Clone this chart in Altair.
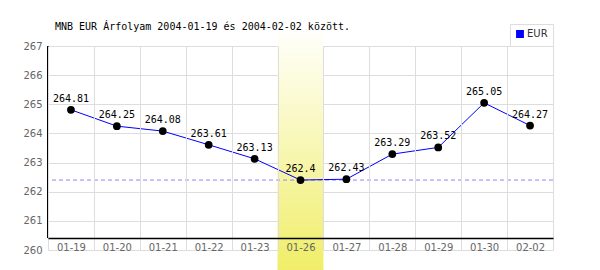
import altair as alt
import pandas as pd

dates = ["01-19", "01-20", "01-21", "01-22", "01-23", "01-26",
         "01-27", "01-28", "01-29", "01-30", "02-02"]
rates = [264.81, 264.25, 264.08, 263.61, 263.13, 262.4,
         262.43, 263.29, 263.52, 265.05, 264.27]
rate_labels = ["264.81", "264.25", "264.08", "263.61", "263.13", "262.4",
               "262.43", "263.29", "263.52", "265.05", "264.27"]
series_name = "EUR"
highlight_dates = ["01-26"]
y_ticks = [260, 261, 262, 263, 264, 265, 266, 267]
title_text = "MNB EUR Árfolyam 2004-01-19 és 2004-02-02 között."

df = pd.DataFrame({"date": dates, "rate": rates, "label": rate_labels,
                   "series": [series_name] * len(dates)})
df_h = pd.DataFrame({"date": highlight_dates})
df_t = pd.DataFrame({"t": [title_text]})

W, H = 505, 204

xscale = alt.Scale(domain=dates, paddingInner=0, paddingOuter=0)
yscale = alt.Scale(domain=[y_ticks[0], y_ticks[-1]], nice=False, zero=False)

x_axis = alt.Axis(title=None, tickBand="extent", ticks=False, grid=True,
                  gridColor="#dddddd", domainColor="#000000", domainWidth=1.5,
                  offset=-12, labelPadding=4, labelFont="DejaVu Sans",
                  labelFontSize=10, labelColor="#666666", labelAngle=0, zindex=1)
y_axis = alt.Axis(title=None, values=y_ticks, ticks=False, domain=False,
                  grid=True, gridColor="#dddddd", labelPadding=6,
                  labelFont="DejaVu Sans", labelFontSize=10,
                  labelColor="#666666", labelOverlap=False, zindex=0)

X = alt.X("date:N", scale=xscale, axis=x_axis, sort=dates)
Y = alt.Y("rate:Q", scale=yscale, axis=y_axis)

base = alt.Chart(df)

grad = alt.LinearGradient(
    gradient="linear", x1=0, y1=0, x2=0, y2=1,
    stops=[alt.GradientStop(color="#fffffc", offset=0),
           alt.GradientStop(color="#f0ee68", offset=1)])

highlight = alt.Chart(df_h).mark_rect(color=grad).encode(
    x=X, y=alt.value(-16), y2=alt.value(224))

grid_layer = base.mark_point(opacity=0).encode(x=X, y=Y)

left_line = base.mark_rule(color="#000000", strokeWidth=1.5).encode(
    x=alt.value(0), y=alt.value(0), y2=alt.value(192))

min_rule = base.mark_rule(color="#8888ff", strokeDash=[4, 3], strokeWidth=1).encode(
    y=alt.Y("min(rate):Q", scale=yscale, axis=y_axis))

line = base.mark_line(strokeWidth=1).encode(
    x=X, y=Y,
    color=alt.Color("series:N",
                    scale=alt.Scale(domain=[series_name], range=["#0000ff"]),
                    legend=alt.Legend(title=None, orient="none", legendX=462,
                                      legendY=-22, symbolType="square",
                                      symbolSize=40, symbolFillColor="#0000ff",
                                      symbolStrokeColor="#0000ff",
                                      strokeColor="#dddddd", padding=5,
                                      labelFont="DejaVu Sans", labelFontSize=10,
                                      labelColor="#333333", labelOffset=2)))

points = base.mark_circle(color="#000000", size=60, opacity=1).encode(x=X, y=Y)

texts = base.mark_text(font="DejaVu Sans Mono", fontSize=10, color="#000000",
                       dy=-11, baseline="middle", align="center").encode(
    x=X, y=Y, text="label:N")

title = alt.Chart(df_t).mark_text(font="DejaVu Sans Mono", fontSize=10,
                                  color="#000000", align="left",
                                  baseline="middle").encode(
    x=alt.value(7), y=alt.value(-19), text="t:N")

chart = alt.layer(highlight, grid_layer, left_line, min_rule, line, points,
                  texts, title).properties(
    width=W, height=H,
    autosize=alt.AutoSizeParams(type="none"),
    padding={"left": 48, "top": 46, "right": 47, "bottom": 20},
    background="#ffffff",
).configure_view(stroke=None)

chart.save("out.html", embed_options={"renderer": "svg", "actions": False})
